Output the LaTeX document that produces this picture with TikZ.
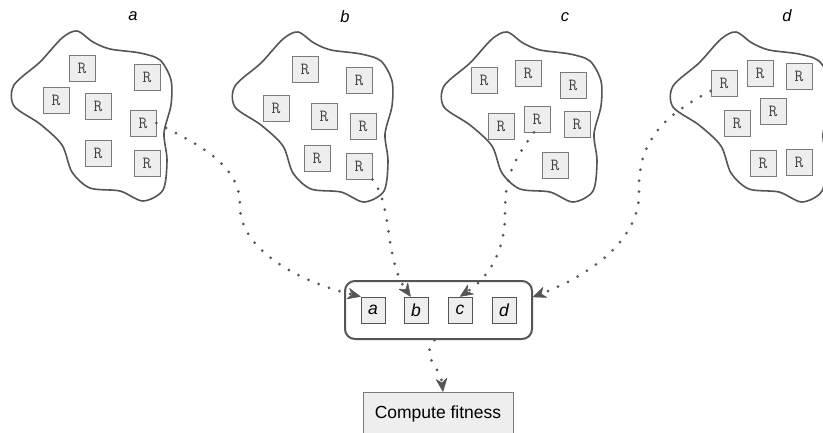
\documentclass[tikz,border=0pt]{standalone}
\usepackage{fontspec}
\setmainfont{Liberation Sans}
\usetikzlibrary{arrows.meta,calc}
\definecolor{edgec}{HTML}{555555}
\definecolor{boxfill}{HTML}{EEEEEE}
\definecolor{rline}{HTML}{7A7A7A}
\definecolor{rtext}{HTML}{444444}
\newcommand{\blobshape}{plot[smooth cycle, tension=0.5] coordinates {(77,31) (93,42) (110,49) (140,53) (160,60) (171,80) (171,105) (164,133) (167,160) (163,190) (143,201) (120,191) (90,188) (72,172) (62,145) (40,124) (14,106) (14,85) (40,62) (62,38)}}
\tikzset{
  blob/.style={draw=edgec, line width=1.6pt},
  rbox/.style={draw=rline, fill=boxfill, minimum size=26pt, inner sep=0pt, line width=0.8pt, text=rtext, font=\ttfamily\fontsize{17}{17}\selectfont},
  toplbl/.style={font=\itshape\fontsize{16.5}{16}\selectfont, inner sep=0pt},
  ibox/.style={draw=edgec, fill=boxfill, minimum width=24pt, minimum height=26pt, inner sep=0pt, line width=0.8pt, font=\itshape\fontsize{17.5}{17}\selectfont},
  contbox/.style={draw=edgec, line width=2pt, rounded corners=10pt, minimum width=187pt, minimum height=58pt, inner sep=0pt, fill=white},
  fitbox/.style={draw=rline, fill=boxfill, minimum width=150pt, minimum height=44pt, inner sep=0pt, line width=0.8pt, font=\fontsize{17.5}{20}\selectfont},
  dotarrow/.style={draw=edgec, line width=3pt, line cap=round, dash pattern=on 0pt off 11pt,
    -{Stealth[length=14pt, width=12pt, inset=4.5pt, line width=0.6pt, round=false]}}
}
\begin{document}
\begin{tikzpicture}[x=1pt, y=-1pt]
\useasboundingbox (0,0) rectangle (823,432);
\clip (0,0) rectangle (823,432);
\fill[white] (0,0) rectangle (823,432);

% blobs
\draw[blob] \blobshape;
\draw[blob, shift={(221,1)}] \blobshape;
\draw[blob, shift={(430,1)}] \blobshape;
\draw[blob, shift={(659,1)}] \blobshape;

% labels
\node[toplbl] (la) at (133,16) {a};
\node[toplbl] (lb) at (345,17) {b};
\node[toplbl] (lc) at (565,17) {c};
\node[toplbl] (ld) at (787,16) {d};

% R boxes
\foreach \x/\y [count=\i] in {82/68, 147/77, 56/100, 98/106, 143/123, 98/153, 147/163}
  \node[rbox] (Ra\i) at (\x,\y) {R};
\foreach \x/\y [count=\i] in {305/69, 359/80, 276/108, 324/116, 363/126, 317/158, 359/166}
  \node[rbox] (Rb\i) at (\x,\y) {R};
\foreach \x/\y [count=\i] in {484/80, 528/73, 573/85, 501/126, 537/119, 577/124, 555/165}
  \node[rbox] (Rc\i) at (\x,\y) {R};
\foreach \x/\y [count=\i] in {724/83, 760/73, 799/76, 773/111, 737/123, 763/163, 799/162}
  \node[rbox] (Rd\i) at (\x,\y) {R};

% container
\node[contbox] (cont) at (438.5,310) {};
\node[ibox] (ia) at (373,310) {a};
\node[ibox] (ib) at (416,310) {b};
\node[ibox] (ic) at (460,310) {c};
\node[ibox] (id) at (504,310) {d};

% compute fitness
\node[fitbox] (fit) at (438,414) {Compute fitness};

% connectors
\draw[dotarrow] (Ra5.east) .. controls (200,145) and (240,165) .. (240,205)
  .. controls (239,250) and (300,282) .. (ia.north west);
\draw[dotarrow] (Rb7.south east) .. controls (393,205) and (384,258) .. ([xshift=7pt]ib.north west);
\draw[dotarrow] ([xshift=-3pt]Rc5.south) .. controls (510,165) and (505,180) .. (505,215)
  .. controls (505,255) and (485,280) .. (ic.north);
\draw[dotarrow] ([yshift=-8pt]Rd1.west) .. controls (665,115) and (638,140) .. (639,190)
  .. controls (641,240) and (590,275) .. ([yshift=13pt]cont.east);
\draw[dotarrow] ([xshift=-4pt]cont.south) .. controls (420,358) and (440,366) .. ([xshift=5pt]fit.north);
\end{tikzpicture}
\end{document}
